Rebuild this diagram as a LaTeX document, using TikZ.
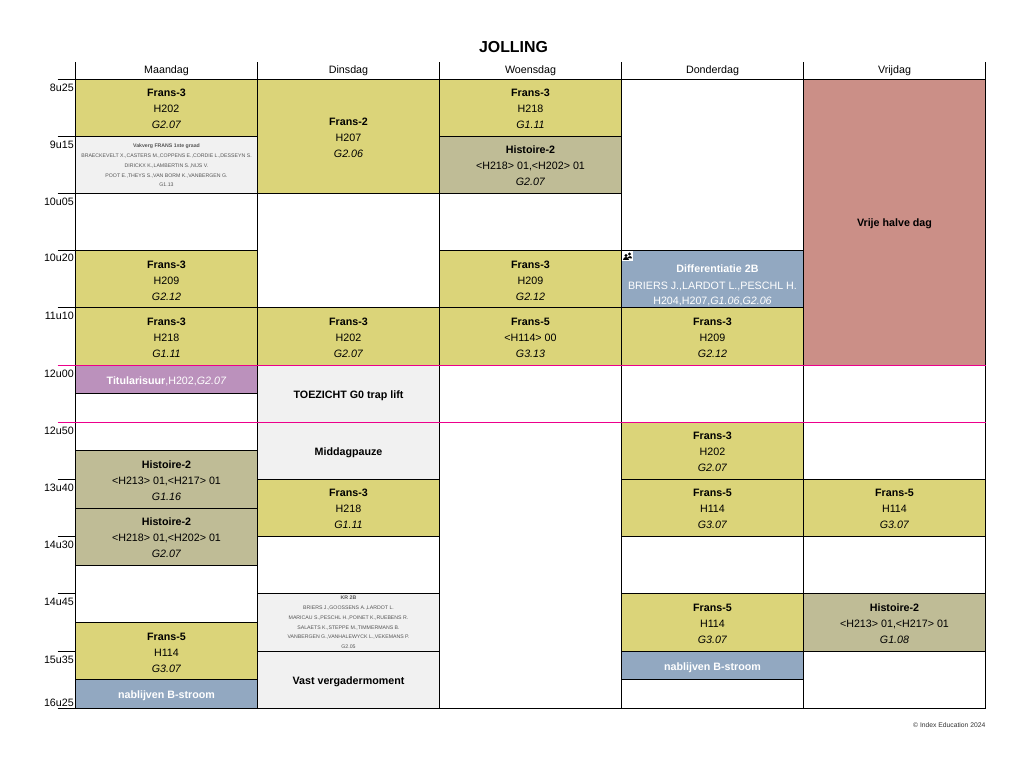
\documentclass[tikz,border=0pt]{standalone}
\usepackage{fontspec}
\setmainfont{Liberation Sans}
\definecolor{fransc}{HTML}{DBD479}
\definecolor{histc}{HTML}{BFBC96}
\definecolor{greyc}{HTML}{F1F1F1}
\definecolor{bluec}{HTML}{92A8C1}
\definecolor{purplec}{HTML}{BB91BC}
\definecolor{redc}{HTML}{CB8F87}
\definecolor{smallc}{HTML}{555555}
\newcommand{\tfont}{\fontsize{10.7}{16}\selectfont}
\newcommand{\sfont}{\fontsize{5.2}{9.8}\selectfont}
% name, column x, top y, bottom y, style, text, text offset
\newcommand{\blkx}[7]{\node[slot,#5,minimum height={(#4-#3)*1pt}] (#1) at ({#2+91},{(#3+#4)/2}) {};
  \node[slottext,#5,fill=none,yshift={-(#7)*1pt}] (#1t) at (#1.center) {#6};}
\newcommand{\blk}[6]{\blkx{#1}{#2}{#3}{#4}{#5}{#6}{1}}
\newcommand{\tlab}[3]{\node[timelab] (#1) at (73.5,#2) {#3};}
\newcommand{\ttl}[3]{\textbf{#1}\\#2\\\textit{#3}}
\begin{document}
\begin{tikzpicture}[x=1pt,y=-1pt,
  slot/.style={draw=black,line width=1pt,rectangle,inner sep=0pt,minimum width=182pt},
  slottext/.style={draw=none,inner sep=0pt,align=center,text=black,font=\tfont},
  frans/.style={fill=fransc},
  hist/.style={fill=histc},
  greyb/.style={fill=greyc},
  blueb/.style={fill=bluec,text=white},
  purpleb/.style={fill=purplec,text=white},
  redb/.style={fill=redc},
  whiteb/.style={fill=white},
  small/.style={font=\sfont,text=smallc},
  daylab/.style={font=\tfont,anchor=center,inner sep=0pt},
  timelab/.style={font=\tfont,anchor=east,inner sep=0pt},
  rule/.style={line width=1pt,draw=black},
  noon/.style={line width=1pt,draw=magenta}]
\useasboundingbox (0,0) rectangle (1023,767);
\fill[white] (0,0) rectangle (1023,767);
\begin{scope}[shift={(0.5,0.5)}]
\node[font=\bfseries\fontsize{15.9}{16}\selectfont,inner sep=0pt] (title) at (513,47) {JOLLING};
% day heads
\node[daylab] (d1) at (166,70) {Maandag};
\node[daylab] (d2) at (348,70) {Dinsdag};
\node[daylab] (d3) at (530,70) {Woensdag};
\node[daylab] (d4) at (712,70) {Donderdag};
\node[daylab] (d5) at (894,70) {Vrijdag};
\foreach \x in {75,257,439,621,803,985} \draw[rule] (\x,62) -- (\x,79);
% Maandag
\blk{m0}{75}{79}{136}{frans}{\ttl{Frans-3}{H202}{G2.07}}
\blkx{m1}{75}{136}{193}{greyb,small}{\textbf{Vakverg FRANS 1ste graad}\\BRAECKEVELT X.,CASTERS M.,COPPENS E.,CORDIE L.,DESSEYN S.\\DIRICKX K.,LAMBERTIN S.,NIJS V.\\POOT E.,THEYS S.,VAN BORM K.,VANBERGEN G.\\G1.13}{0.5}
\blk{m2}{75}{193}{250}{whiteb}{}
\blkx{m3}{75}{250}{307}{frans}{\ttl{Frans-3}{H209}{G2.12}}{1.5}
\blkx{m4}{75}{307}{365}{frans}{\ttl{Frans-3}{H218}{G1.11}}{1.5}
\blkx{m5}{75}{365}{393}{purpleb}{\textbf{Titularisuur},H202,\textit{G2.07}}{1.5}
\blk{m6}{75}{393}{450}{whiteb}{}
\blkx{m7}{75}{450}{508}{hist}{\ttl{Histoire-2}{<H213> 01,<H217> 01}{G1.16}}{1.5}
\blk{m8}{75}{508}{565}{hist}{\ttl{Histoire-2}{<H218> 01,<H202> 01}{G2.07}}
\blk{m9}{75}{565}{622}{whiteb}{}
\blkx{m10}{75}{622}{679}{frans}{\ttl{Frans-5}{H114}{G3.07}}{1.5}
\blkx{m11}{75}{679}{708}{blueb}{\textbf{nablijven B-stroom}}{1.5}
% Dinsdag
\blkx{t0}{257}{79}{193}{frans}{\ttl{Frans-2}{H207}{G2.06}}{1.5}
\blk{t1}{257}{193}{307}{whiteb}{}
\blkx{t2}{257}{307}{365}{frans}{\ttl{Frans-3}{H202}{G2.07}}{1.5}
\blkx{t3}{257}{365}{422}{greyb}{\textbf{TOEZICHT G0 trap lift}}{1.5}
\blkx{t4}{257}{422}{479}{greyb}{\textbf{Middagpauze}}{1.5}
\blk{t5}{257}{479}{536}{frans}{\ttl{Frans-3}{H218}{G1.11}}
\blk{t6}{257}{536}{593}{whiteb}{}
\blkx{t7}{257}{593}{651}{greyb,small}{\textbf{KR 2B}\\BRIERS J.,GOOSSENS A.,LARDOT L.\\MARICAU S.,PESCHL H.,POINET K.,RUEBENS R.\\SALAETS K.,STEPPE M.,TIMMERMANS B.\\VANBERGEN G.,VANHALEWYCK L.,VEKEMANS P.\\G2.05}{0}
\blkx{t8}{257}{651}{708}{greyb}{\textbf{Vast vergadermoment}}{1.5}
% Woensdag
\blk{w0}{439}{79}{136}{frans}{\ttl{Frans-3}{H218}{G1.11}}
\blk{w1}{439}{136}{193}{hist}{\ttl{Histoire-2}{<H218> 01,<H202> 01}{G2.07}}
\blk{w2}{439}{193}{250}{whiteb}{}
\blkx{w3}{439}{250}{307}{frans}{\ttl{Frans-3}{H209}{G2.12}}{1.5}
\blkx{w4}{439}{307}{365}{frans}{\ttl{Frans-5}{<H114> 00}{G3.13}}{1.5}
\blk{w5}{439}{365}{708}{whiteb}{}
% Donderdag
\blk{o0}{621}{79}{250}{whiteb}{}
\blkx{o1}{621}{250}{307}{blueb}{\hspace*{10pt}\textbf{Differentiatie 2B}\\[1pt]BRIERS J.,LARDOT L.,PESCHL H.\\[-1pt]H204,H207,\textit{G1.06},\textit{G2.06}}{6}
\blkx{o2}{621}{307}{365}{frans}{\ttl{Frans-3}{H209}{G2.12}}{1.5}
\blk{o3}{621}{365}{422}{whiteb}{}
\blk{o4}{621}{422}{479}{frans}{\ttl{Frans-3}{H202}{G2.07}}
\blk{o5}{621}{479}{536}{frans}{\ttl{Frans-5}{H114}{G3.07}}
\blk{o6}{621}{536}{593}{whiteb}{}
\blkx{o7}{621}{593}{651}{frans}{\ttl{Frans-5}{H114}{G3.07}}{1.5}
\blkx{o8}{621}{651}{679}{blueb}{\textbf{nablijven B-stroom}}{2}
\blk{o9}{621}{679}{708}{whiteb}{}
% Vrijdag
\blk{v0}{803}{79}{365}{redb}{\textbf{Vrije halve dag}}
\blk{v1}{803}{365}{479}{whiteb}{}
\blk{v2}{803}{479}{536}{frans}{\ttl{Frans-5}{H114}{G3.07}}
\blk{v3}{803}{536}{593}{whiteb}{}
\blkx{v4}{803}{593}{651}{hist}{\ttl{Histoire-2}{<H213> 01,<H217> 01}{G1.08}}{1.5}
\blk{v5}{803}{651}{708}{whiteb}{}
% icon
\fill[white] (621.5,250.5) rectangle (632,261);
\fill[black] (625.5,255) circle (1.6) (629,253.5) circle (1.6);
\fill[black] (622.5,260) .. controls (622.5,256) and (628.5,256) .. (628.5,260) -- cycle;
\fill[black] (627,257.5) .. controls (628,255) and (631.5,255) .. (631.5,258) -- cycle;
% ticks
\foreach \y in {79,136,193,250,307,479,536,593,651,708} \draw[rule] (57,\y) -- (75,\y);
\draw[noon] (57,365) -- (985,365);
\draw[noon] (57,422) -- (985,422);
% times
\tlab{h0}{87}{8u25}
\tlab{h1}{144}{9u15}
\tlab{h2}{201}{10u05}
\tlab{h3}{257}{10u20}
\tlab{h4}{315}{11u10}
\tlab{h5}{373}{12u00}
\tlab{h6}{430}{12u50}
\tlab{h7}{487}{13u40}
\tlab{h8}{544}{14u30}
\tlab{h9}{601}{14u45}
\tlab{h10}{659}{15u35}
\tlab{h11}{702}{16u25}
\node[font=\fontsize{6.75}{8}\selectfont,anchor=east,inner sep=0pt,text=black!80] (copy) at (985,725) {© Index Education 2024};
\end{scope}
\end{tikzpicture}
\end{document}
